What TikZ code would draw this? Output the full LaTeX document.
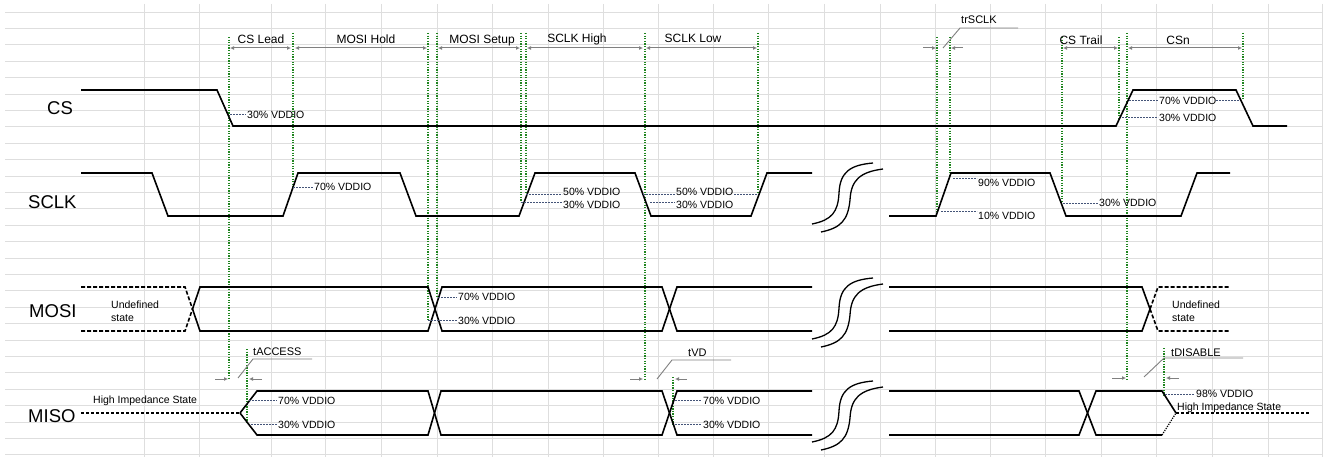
\documentclass[tikz,border=0pt]{standalone}
\usepackage{fontspec}
\setmainfont{Liberation Sans}
\usetikzlibrary{arrows.meta}
\definecolor{cell-gray}{gray}{0.87}
\definecolor{mark-green}{rgb}{0.12,0.52,0.12}
\definecolor{level-blue}{RGB}{68,84,120}

\begin{document}
\begin{tikzpicture}[x=1pt, y=-1pt,%SPI timing
  wave/.style={line width=1.6pt, line join=miter},
  undef/.style={wave, dash pattern=on 4pt off 2pt},
  cell/.style={draw=cell-gray, line width=0.7pt},
  tline/.style={draw=mark-green, line width=1.3pt, dash pattern=on 1.3pt off 1.3pt},
  lvl/.style={draw=level-blue, line width=0.8pt, dash pattern=on 2pt off 1pt},
  dim/.style={draw=gray, line width=1pt, {Latex[length=4pt,width=4pt]}-{Latex[length=4pt,width=4pt]}},
  ptr/.style={draw=gray, line width=1pt, -{Latex[length=4pt,width=4pt]}},
  lead/.style={draw=gray, line width=0.9pt},
  sig/.style={font=\fontsize{18.5}{20}\selectfont, inner sep=0pt, anchor=base west},
  hdr/.style={font=\fontsize{12}{14}\selectfont, inner sep=0pt, anchor=base},
  tag/.style={font=\fontsize{11}{13}\selectfont, inner sep=0pt, anchor=base west},
  pct/.style={font=\fontsize{10.5}{13}\selectfont, inner sep=0pt, anchor=west}]
\useasboundingbox[fill=white] (0,0) rectangle (1325,457);
% sheet cells
\foreach \k in {0,...,27}
  \draw[cell] (5,{12+16.4*\k}) -- (1322,{12+16.4*\k});
\foreach \x in {144,199,271,325,381,437,492,548,603,658,713,768,824,880,935,990,1045,1101,1156,1212,1268,1322}
  \draw[cell] (\x,4) -- (\x,457);
% timing markers
\foreach \x/\a/\b in {229/37/380, 293/33/187, 428/33/320, 437/33/297, 521/33/202, 526/33/194,
    645/33/379, 758/33/194, 937/37/213, 950/37/175, 1062/37/203, 1119/37/118, 1127/33/379,
    1243/33/100, 247/349/424, 673/377/424, 1164/348/395}
  \draw[tline] (\x,\a) -- (\x,\b);

% CS
\draw[wave] (81,90) -- (217,90) -- (233,126) -- (1116,126) -- (1133,90) -- (1236,90) -- (1253,126) -- (1287,126);
% SCLK
\draw[wave] (81,173) -- (152,173) -- (168,216) -- (283,216) -- (298,173) -- (400,173) -- (416,216) -- (519,216)
  -- (535,173) -- (635,173) -- (651,216) -- (751,216) -- (767,173) -- (812,173);
\draw[wave] (889,216) -- (936,216) -- (951,173) -- (1050,173) -- (1066,216) -- (1181,216) -- (1197,173) -- (1230,173);
% MOSI
\draw[undef] (81,287) -- (185,287) -- (192.5,309) (81,331) -- (185,331) -- (192.5,309);
\draw[wave] (192.5,309) -- (200,287) -- (428,287) -- (442,331) -- (662,331) -- (677,287) -- (812,287);
\draw[wave] (192.5,309) -- (200,331) -- (428,331) -- (442,287) -- (662,287) -- (677,331) -- (812,331);
\draw[wave] (889,287) -- (1142,287) -- (1150,309) (889,331) -- (1142,331) -- (1150,309);
\draw[undef] (1150,309) -- (1158,287) -- (1230,287) (1150,309) -- (1158,331) -- (1230,331);
% MISO
\draw[undef, dash pattern=on 3pt off 2pt] (81,413) -- (240,413);
\draw[wave] (240,413) -- (257,391) -- (428,391) -- (441,435) -- (662,435) -- (677,391) -- (812,391);
\draw[wave] (240,413) -- (257,435) -- (428,435) -- (441,391) -- (662,391) -- (677,435) -- (812,435);
\draw[wave] (889,391) -- (1079,391) -- (1096,435) -- (1162,435);
\draw[wave] (889,435) -- (1079,435) -- (1096,391) -- (1162,391) -- (1176,413);
\draw[wave, line width=1.2pt, dash pattern=on 1.2pt off 1.2pt] (1162,435) -- (1176,413);
\draw[undef, dash pattern=on 3pt off 2pt] (1176,413) -- (1310,413);
% breaks
\foreach \dy in {0,115,218} {
  \begin{scope}[shift={(0,\dy)}]
  \draw[line width=1.3pt] (812,224) .. controls (832,220) and (838,212) .. (839,193)
    .. controls (840,172) and (850,165) .. (873,163);
  \draw[line width=1.3pt] (821,232) .. controls (841,228) and (848,220) .. (850,200)
    .. controls (851,180) and (860,172) .. (883,169);
  \end{scope}
}

\node[sig] (cs) at (47,115) {CS};
\node[sig] (sclk) at (28,208) {SCLK};
\node[sig] (mosi) at (29,317) {MOSI};
\node[sig] (miso) at (28,422) {MISO};

% intervals
\draw[dim] (230,48) -- (291,48);   \node[hdr] (lead) at (261,44) {CS Lead};
\draw[dim] (295,48) -- (427,48);   \node[hdr] (hold) at (366,44) {MOSI Hold};
\draw[dim] (438,48) -- (520,48);   \node[hdr] (setup) at (482,44) {MOSI Setup};
\draw[dim] (527,48) -- (643,48);   \node[hdr] (high) at (577,43) {SCLK High};
\draw[dim] (646,48) -- (757,48);   \node[hdr] (low) at (693,43) {SCLK Low};
\draw[dim] (1063,48) -- (1118,48); \node[hdr] (trail) at (1081,45) {CS Trail};
\draw[dim] (1128,48) -- (1242,48); \node[hdr] (csn) at (1178,45) {CSn};

\draw[ptr] (923,48) -- (936,48); \draw[ptr] (963,48) -- (951,48);
\draw[lead] (943,48) -- (960,28) -- (1018,28);
  \node[tag] (trsclk) at (961,24) {trSCLK};
\draw[ptr] (215,379) -- (228,379); \draw[ptr] (262,379) -- (249,379);
\draw[lead] (238,378) -- (253,359) -- (312,359);
  \node[tag] (tacc) at (253,355) {tACCESS};
\draw[ptr] (630,379) -- (643,379); \draw[ptr] (687,379) -- (675,379);
\draw[lead] (657,379) -- (672,360) -- (731,360);
  \node[tag] (tvd) at (688,356) {tVD};
\draw[ptr] (1112,378) -- (1126,378); \draw[ptr] (1179,378) -- (1166,378);
\draw[lead] (1144,377) -- (1164,358) -- (1243,358);
  \node[tag] (tdis) at (1171,356) {tDISABLE};

% levels
\draw[lvl] (230,114) -- (246,114);   \node[pct] (cs30a) at (247,114.5) {30\% VDDIO};
\draw[lvl] (1129,100) -- (1158,100); \node[pct] (cs70) at (1159,100.5) {70\% VDDIO};
\draw[lvl] (1216,100) -- (1240,100);
\draw[lvl] (1122,117) -- (1158,117); \node[pct] (cs30b) at (1159,118) {30\% VDDIO};
\draw[lvl] (293,187) -- (313,187);   \node[pct] (sk70) at (314,187) {70\% VDDIO};
\draw[lvl] (526,194) -- (562,194);   \node[pct] (sk50a) at (563,191.5) {50\% VDDIO};
\draw[lvl] (521,202) -- (562,202);   \node[pct] (sk30a) at (563,205) {30\% VDDIO};
\draw[lvl] (643,194) -- (675,194);   \node[pct] (sk50b) at (676,191.5) {50\% VDDIO};
\draw[lvl] (734,194) -- (758,194);
\draw[lvl] (650,202) -- (675,202);   \node[pct] (sk30b) at (676,205) {30\% VDDIO};
\draw[lvl] (953,178) -- (977,178);   \node[pct] (sk90) at (978,183) {90\% VDDIO};
\draw[lvl] (941,211) -- (977,211);   \node[pct] (sk10) at (978,215.5) {10\% VDDIO};
\draw[lvl] (1063,203) -- (1098,203); \node[pct] (sk30c) at (1099,203) {30\% VDDIO};
\draw[lvl] (438,297) -- (457,297);   \node[pct] (mo70) at (458,297) {70\% VDDIO};
\draw[lvl] (428,320) -- (457,320);   \node[pct] (mo30) at (458,321) {30\% VDDIO};
\draw[lvl] (249,400) -- (277,400);   \node[pct] (mi70a) at (278,400.5) {70\% VDDIO};
\draw[lvl] (251,424) -- (277,424);   \node[pct] (mi30a) at (278,424.5) {30\% VDDIO};
\draw[lvl] (675,400) -- (702,400);   \node[pct] (mi70b) at (703,400.5) {70\% VDDIO};
\draw[lvl] (675,424) -- (702,424);   \node[pct] (mi30b) at (703,424.5) {30\% VDDIO};
\draw[lvl] (1165,394) -- (1195,394); \node[pct] (mi98) at (1196,394) {98\% VDDIO};

\node[pct, anchor=north west, align=left] (und1) at (111,301) {Undefined\\state};
\node[pct, anchor=north west, align=left] (und2) at (1172,301) {Undefined\\state};
\node[pct, anchor=base west] (hiz1) at (93,403.5) {High Impedance State};
\node[pct, anchor=base west] (hiz2) at (1177,410) {High Impedance State};
\end{tikzpicture}
\end{document}
